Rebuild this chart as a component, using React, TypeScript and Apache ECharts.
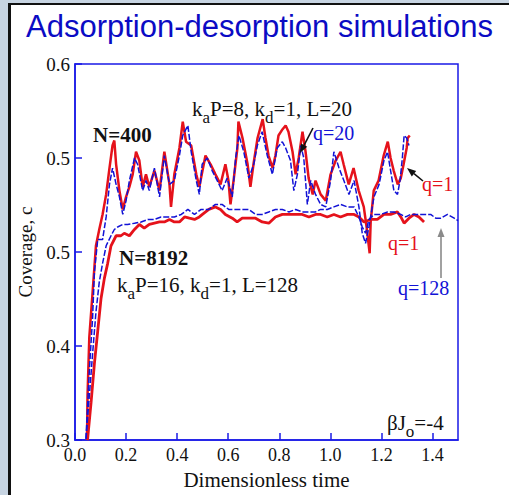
import React, { useEffect, useRef } from "react";
import * as echarts from "echarts";

// ---- data: [dimensionless time, coverage] ----
const n400q1: number[][] = [
  [0.047, 0.300], [0.049, 0.335], [0.056, 0.382], [0.069, 0.418], [0.082, 0.455], [0.095, 0.468],
  [0.108, 0.480], [0.122, 0.496], [0.135, 0.517], [0.147, 0.535], [0.154, 0.539], [0.161, 0.520],
  [0.174, 0.499], [0.187, 0.484], [0.200, 0.494], [0.213, 0.502], [0.226, 0.512], [0.239, 0.530],
  [0.252, 0.523], [0.265, 0.502], [0.278, 0.512], [0.291, 0.502], [0.311, 0.515], [0.331, 0.499],
  [0.350, 0.530], [0.370, 0.504], [0.376, 0.486], [0.389, 0.512], [0.409, 0.533], [0.422, 0.554],
  [0.435, 0.538], [0.455, 0.535], [0.475, 0.512], [0.487, 0.502], [0.511, 0.527], [0.531, 0.520],
  [0.550, 0.512], [0.570, 0.504], [0.589, 0.520], [0.601, 0.507], [0.609, 0.488], [0.621, 0.507],
  [0.636, 0.533], [0.640, 0.554], [0.656, 0.541], [0.676, 0.520], [0.687, 0.502], [0.699, 0.520],
  [0.715, 0.541], [0.735, 0.556], [0.746, 0.541], [0.758, 0.527], [0.774, 0.517], [0.785, 0.527],
  [0.797, 0.543], [0.813, 0.548], [0.825, 0.551], [0.836, 0.546], [0.852, 0.530], [0.864, 0.512],
  [0.876, 0.525], [0.891, 0.546], [0.903, 0.530], [0.915, 0.509], [0.931, 0.496], [0.942, 0.507],
  [0.962, 0.496], [0.982, 0.491], [1.001, 0.512], [1.021, 0.523], [1.040, 0.530], [1.052, 0.520],
  [1.072, 0.504], [1.091, 0.517], [1.111, 0.499], [1.131, 0.486], [1.142, 0.470], [1.154, 0.449],
  [1.158, 0.474], [1.170, 0.499], [1.189, 0.507], [1.209, 0.527], [1.225, 0.538], [1.236, 0.525],
  [1.248, 0.515], [1.264, 0.504], [1.276, 0.509], [1.287, 0.520], [1.299, 0.533], [1.303, 0.541],
  [1.311, 0.543],
];

const n400q20: number[][] = [
  [0.043, 0.301], [0.056, 0.355], [0.069, 0.398], [0.076, 0.434], [0.089, 0.460], [0.108, 0.460],
  [0.122, 0.478], [0.135, 0.504], [0.147, 0.517], [0.161, 0.504], [0.174, 0.494], [0.187, 0.480],
  [0.200, 0.491], [0.213, 0.507], [0.233, 0.525], [0.245, 0.520], [0.265, 0.499], [0.278, 0.507],
  [0.291, 0.499], [0.311, 0.517], [0.331, 0.494], [0.350, 0.527], [0.370, 0.504], [0.389, 0.507],
  [0.409, 0.527], [0.422, 0.543], [0.442, 0.551], [0.455, 0.530], [0.475, 0.507], [0.487, 0.496],
  [0.498, 0.520], [0.518, 0.525], [0.537, 0.515], [0.557, 0.507], [0.576, 0.499], [0.596, 0.509],
  [0.616, 0.494], [0.629, 0.525], [0.642, 0.543], [0.661, 0.530], [0.681, 0.509], [0.700, 0.520],
  [0.714, 0.535], [0.733, 0.546], [0.753, 0.527], [0.773, 0.512], [0.792, 0.533], [0.812, 0.538],
  [0.825, 0.533], [0.844, 0.523], [0.857, 0.499], [0.871, 0.512], [0.884, 0.535], [0.896, 0.525],
  [0.910, 0.488], [0.923, 0.507], [0.942, 0.496], [0.962, 0.488], [0.982, 0.486], [1.001, 0.507],
  [1.014, 0.530], [1.034, 0.517], [1.053, 0.507], [1.073, 0.496], [1.093, 0.507], [1.112, 0.486],
  [1.125, 0.465], [1.138, 0.457], [1.151, 0.470], [1.171, 0.494], [1.191, 0.504], [1.210, 0.523],
  [1.224, 0.530], [1.236, 0.515], [1.249, 0.499], [1.263, 0.496], [1.273, 0.507], [1.282, 0.525],
  [1.289, 0.543], [1.299, 0.541], [1.308, 0.535],
];

const n8192q1: number[][] = [
  [0.049, 0.300], [0.063, 0.330], [0.076, 0.361], [0.089, 0.387], [0.102, 0.413], [0.115, 0.429],
  [0.128, 0.441], [0.141, 0.455], [0.161, 0.463], [0.180, 0.463], [0.193, 0.465], [0.213, 0.463],
  [0.233, 0.468], [0.252, 0.472], [0.271, 0.469], [0.291, 0.472], [0.311, 0.473], [0.331, 0.474],
  [0.350, 0.474], [0.370, 0.476], [0.389, 0.474], [0.409, 0.474], [0.429, 0.478], [0.448, 0.477],
  [0.468, 0.476], [0.487, 0.478], [0.499, 0.480], [0.524, 0.484], [0.550, 0.486], [0.570, 0.484],
  [0.589, 0.480], [0.616, 0.477], [0.635, 0.474], [0.655, 0.477], [0.681, 0.477], [0.707, 0.477],
  [0.733, 0.474], [0.759, 0.473], [0.785, 0.478], [0.812, 0.480], [0.838, 0.480], [0.864, 0.480],
  [0.890, 0.480], [0.916, 0.478], [0.942, 0.480], [0.962, 0.480], [0.988, 0.478], [1.014, 0.480],
  [1.040, 0.478], [1.067, 0.480], [1.093, 0.480], [1.112, 0.478], [1.132, 0.474], [1.158, 0.476],
  [1.184, 0.476], [1.210, 0.480], [1.236, 0.480], [1.263, 0.482], [1.276, 0.478], [1.289, 0.473],
  [1.308, 0.477], [1.328, 0.480], [1.347, 0.478], [1.367, 0.474],
];

const n8192q128: number[][] = [
  [0.043, 0.301], [0.056, 0.335], [0.069, 0.369], [0.082, 0.402], [0.095, 0.426], [0.108, 0.441],
  [0.122, 0.455], [0.141, 0.463], [0.154, 0.468], [0.167, 0.470], [0.187, 0.472], [0.206, 0.472],
  [0.233, 0.473], [0.259, 0.474], [0.285, 0.476], [0.311, 0.476], [0.337, 0.478], [0.363, 0.478],
  [0.389, 0.478], [0.416, 0.480], [0.442, 0.484], [0.468, 0.480], [0.494, 0.484], [0.524, 0.484],
  [0.550, 0.488], [0.576, 0.488], [0.602, 0.484], [0.629, 0.484], [0.655, 0.484], [0.681, 0.484],
  [0.707, 0.480], [0.733, 0.480], [0.759, 0.482], [0.785, 0.484], [0.812, 0.484], [0.838, 0.482],
  [0.864, 0.484], [0.890, 0.482], [0.916, 0.482], [0.942, 0.482], [0.962, 0.484], [0.988, 0.484],
  [1.014, 0.486], [1.040, 0.488], [1.067, 0.486], [1.093, 0.486], [1.112, 0.478], [1.125, 0.470],
  [1.138, 0.465], [1.151, 0.476], [1.171, 0.480], [1.197, 0.480], [1.224, 0.482], [1.249, 0.482],
  [1.276, 0.480], [1.295, 0.478], [1.315, 0.480], [1.341, 0.480], [1.367, 0.480], [1.393, 0.480],
  [1.413, 0.477], [1.433, 0.477], [1.459, 0.480], [1.485, 0.477], [1.500, 0.475],
];

const yTickLabels = ["0.3", "0.4", "0.5", "0.5", "0.6"];

const TITLE = "Adsorption-desorption simulations";
const X_NAME = "Dimensionless time";
const Y_NAME = "Coverage, c";

const RED = "#e5121b";
const BLUE = "#1212d6";
const AXIS_BLUE = "#1a1ae6";
const SERIF = "'Liberation Serif', 'Times New Roman', serif";

function arrow(x1: number, y1: number, x2: number, y2: number, color: string) {
  const dx = x2 - x1, dy = y2 - y1;
  const len = Math.hypot(dx, dy);
  const ux = dx / len, uy = dy / len;
  const hl = 9, hw = 3.5;
  const bx = x2 - ux * hl, by = y2 - uy * hl;
  return [
    { type: "line", z: 100, shape: { x1, y1, x2: bx, y2: by }, style: { stroke: color, lineWidth: 1.6 } },
    {
      type: "polygon", z: 100,
      shape: { points: [[x2, y2], [bx - uy * hw, by + ux * hw], [bx + uy * hw, by - ux * hw]] },
      style: { fill: color },
    },
  ];
}

function label(text: string, x: number, y: number, color: string, size: number, bold = false) {
  return {
    type: "text", z: 100, x, y,
    style: {
      text, fill: color, fontFamily: SERIF, fontSize: size, fontWeight: bold ? "bold" : "normal",
      align: "left", verticalAlign: "middle",
    },
  };
}

function subText(text: string, x: number, y: number) {
  return {
    type: "text", z: 100, x, y,
    style: {
      text, fill: "#111", align: "left", verticalAlign: "top",
      rich: {
        n: { fontFamily: SERIF, fontSize: 21, lineHeight: 22, verticalAlign: "top", fill: "#111" },
        s: { fontFamily: SERIF, fontSize: 17, lineHeight: 18, verticalAlign: "top", padding: [11, 0, 0, 0], fill: "#111" },
      },
    },
  };
}

export default function App() {
  const ref = useRef<HTMLDivElement>(null);
  useEffect(() => {
    if (!ref.current) return;
    const chart = echarts.init(ref.current, undefined, { renderer: "svg" });
    const axisCommon = {
      type: "value",
      nameLocation: "middle",
      nameTextStyle: { fontFamily: SERIF, fontSize: 20, color: "#111" },
      axisLine: { show: true, lineStyle: { color: AXIS_BLUE, width: 1.5 } },
      axisTick: { show: true, inside: true, length: 7, lineStyle: { color: AXIS_BLUE, width: 1.5 } },
      splitLine: { show: false },
    };
    const option: any = {
      animation: false,
      backgroundColor: "#ffffff",
      grid: {
        left: 75, right: 51, top: 64, bottom: 47,
        show: true, borderColor: AXIS_BLUE, borderWidth: 1.5, backgroundColor: "transparent",
      },
      xAxis: {
        ...axisCommon,
        min: 0, max: 1.5, interval: 0.2,
        name: X_NAME, nameGap: 25,
        nameTextStyle: { fontFamily: SERIF, fontSize: 21, color: "#111" },
        axisLabel: {
          formatter: (v: number) => v.toFixed(1),
          showMaxLabel: false, color: "#111", fontFamily: SERIF, fontSize: 18, margin: 6,
        },
      },
      yAxis: {
        ...axisCommon,
        min: 0.3, max: 0.6, interval: 0.075,
        name: Y_NAME, nameGap: 40,
        nameTextStyle: { fontFamily: SERIF, fontSize: 19, color: "#111" },
        axisLabel: {
          formatter: (v: number) => yTickLabels[Math.round((v - 0.3) / 0.075)] ?? "",
          color: "#111", fontFamily: SERIF, fontSize: 19, margin: 5,
        },
      },
      series: [
        { name: "N=400 q=1", type: "line", data: n400q1, showSymbol: false, lineStyle: { color: RED, width: 2.5 }, z: 2 },
        { name: "N=400 q=20", type: "line", data: n400q20, showSymbol: false, lineStyle: { color: BLUE, width: 1.5, type: [6, 2] }, z: 3 },
        { name: "N=8192 q=1", type: "line", data: n8192q1, showSymbol: false, lineStyle: { color: RED, width: 2.8 }, z: 2 },
        { name: "N=8192 q=128", type: "line", data: n8192q128, showSymbol: false, lineStyle: { color: BLUE, width: 1.5, type: [6, 2] }, z: 3 },
      ],
      graphic: [
        // slide frame
        { type: "rect", z: -10, shape: { x: 0, y: 0, width: 8, height: 495 }, style: { fill: "#c7d4e2" } },
        { type: "rect", z: -10, shape: { x: 0, y: 0, width: 509, height: 3 }, style: { fill: "#c7d4e2" } },
        { type: "rect", z: -9, shape: { x: 8, y: 3, width: 3, height: 492 }, style: { fill: "#111111" } },
        { type: "rect", z: -9, shape: { x: 8, y: 3, width: 501, height: 2 }, style: { fill: "#111111" } },
        {
          type: "text", z: 100, x: 26, y: 11,
          style: { text: TITLE, fill: "#0b0bc4", fontFamily: "'Liberation Sans', Arial, sans-serif", fontSize: 31, align: "left", verticalAlign: "top" },
        },
        label("N=400", 93, 135, "#111", 21, true),
        label("N=8192", 119, 258, "#111", 21, true),
        subText("{n|k}{s|a}{n|P=8, k}{s|d}{n|=1, L=20}", 192, 98),
        subText("{n|k}{s|a}{n|P=16, k}{s|d}{n|=1, L=128}", 117, 274),
        subText("{n|βJ}{s|o}{n|=-4}", 387, 412),
        label("q=20", 313, 133, BLUE, 20),
        label("q=1", 422, 184, RED, 20),
        label("q=1", 388, 243, RED, 20),
        label("q=128", 398, 288, BLUE, 20),
        ...arrow(313, 128, 300, 153, "#111"),
        ...arrow(423, 181, 407, 168, "#111"),
        ...arrow(441, 278, 441, 228, "#8a8a8a"),
      ],
    };
    chart.setOption(option);
    return () => chart.dispose();
  }, []);
  return <div ref={ref} style={{ position: "fixed", left: 0, top: 0, width: 509, height: 495 }} />;
}
